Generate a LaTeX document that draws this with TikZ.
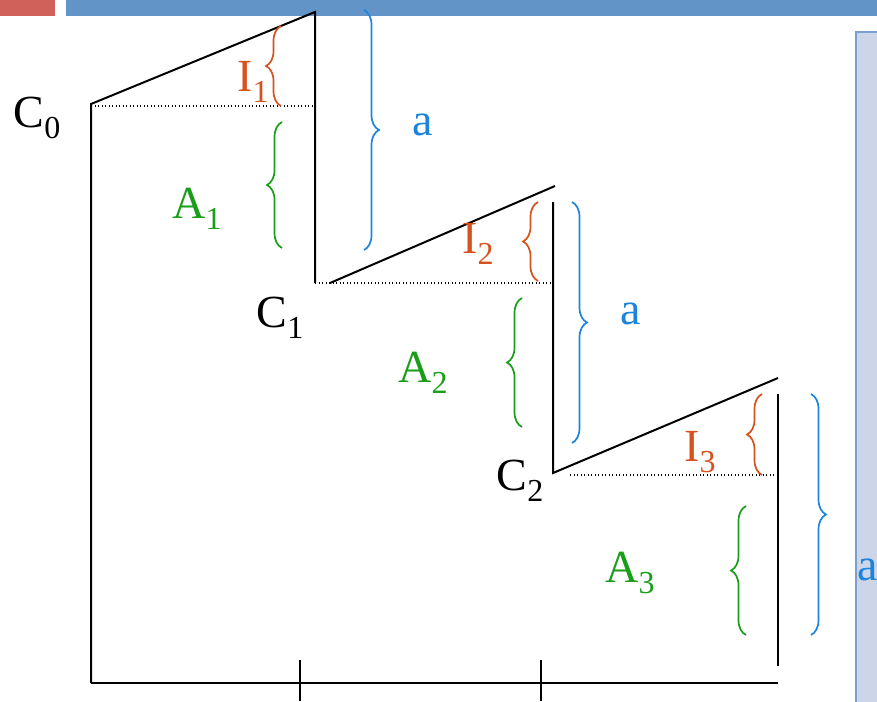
\documentclass[tikz,border=0pt]{standalone}
\usepackage{fontspec}
\setmainfont{Liberation Serif}
\usepackage{xcolor}
\usetikzlibrary{decorations.pathreplacing}
\definecolor{barred}{HTML}{D0605A}
\definecolor{barblue}{HTML}{6394C8}
\definecolor{panelfill}{HTML}{CCD6E8}
\definecolor{panelline}{HTML}{7B9FCF}
\definecolor{ired}{HTML}{D6511C}
\definecolor{agreen}{HTML}{1A9E1A}
\definecolor{bblue}{HTML}{1C84DC}
\newcommand{\idx}[2]{#1\raisebox{-11pt}{\fontsize{32}{32}\selectfont #2}}

\begin{document}
\begin{tikzpicture}[x=1pt, y=-1pt,
  wall/.style={line width=2pt},
  level/.style={dash pattern=on 1.3pt off 2.2pt, line width=1.3pt},
  curly/.style={decorate, decoration={brace, amplitude=15pt}, line width=1.7pt},
  lbl/.style={font=\fontsize{46}{46}\selectfont, inner sep=0}]
  \useasboundingbox (0,0) rectangle (877,701);
  \fill[barred] (0,0) rectangle (55,16);
  \fill[barblue] (66,0) rectangle (877,16);
  \fill[black!25] (859,35) rectangle (880,705);
  \filldraw[fill=panelfill, draw=panelline, line width=1.5pt] (856,32) rectangle (880,705);

  \coordinate (c0) at (91,104);
  \coordinate (top1) at (315,12);
  \coordinate (foot1) at (315,283);
  \coordinate (c1) at (330,283);
  \coordinate (top2) at (555,186);
  \coordinate (head2) at (553,202);
  \coordinate (c2) at (553,473);
  \coordinate (top3) at (778,378);
  \coordinate (head3) at (778,394);
  \coordinate (foot3) at (778,666);
  \coordinate (base0) at (91,683);
  \coordinate (base1) at (778,683);

  \draw[wall] (base0) -- (c0) -- (top1) -- (foot1);
  \draw[wall] (c1) -- (top2);
  \draw[wall] (head2) -- (c2) -- (top3);
  \draw[wall] (head3) -- (foot3);
  \draw[wall] (base0) -- (base1);
  \draw[wall] (300,660) -- (300,701);
  \draw[wall] (541,660) -- (541,701);
  \draw[level] (91,106) -- (315,106);
  \draw[level] (foot1) -- (553,283);
  \draw[level] (570,475) -- (778,475);

  \draw[curly, ired] (281,106) -- (281,26);
  \draw[curly, agreen] (282,248) -- (282,122);
  \draw[curly, bblue] (364,10) -- (364,250);
  \draw[curly, ired] (538,281) -- (538,202);
  \draw[curly, agreen] (522,427) -- (522,298);
  \draw[curly, bblue] (572,202) -- (572,443);
  \draw[curly, ired] (762,475) -- (762,394);
  \draw[curly, agreen] (746,635) -- (746,506);
  \draw[curly, bblue] (811,394) -- (811,635);

  \node[lbl] (c0lbl) at (37,118) {\idx{C}{0}};
  \node[lbl, text=agreen] (a1lbl) at (197,209) {\idx{A}{1}};
  \node[lbl, text=ired] (i1lbl) at (253,82) {\idx{I}{1}};
  \node[lbl, text=bblue] (a1side) at (423,125) {a};
  \node[lbl] (c1lbl) at (280,318) {\idx{C}{1}};
  \node[lbl, text=ired] (i2lbl) at (478,244) {\idx{I}{2}};
  \node[lbl, text=bblue] (a2side) at (631,314) {a};
  \node[lbl, text=agreen] (a2lbl) at (423,373) {\idx{A}{2}};
  \node[lbl] (c2lbl) at (520,481) {\idx{C}{2}};
  \node[lbl, text=ired] (i3lbl) at (700,452) {\idx{I}{3}};
  \node[lbl, text=agreen] (a3lbl) at (630,573) {\idx{A}{3}};
  \node[lbl, text=bblue] (a3side) at (868,570) {a};
\end{tikzpicture}
\end{document}
